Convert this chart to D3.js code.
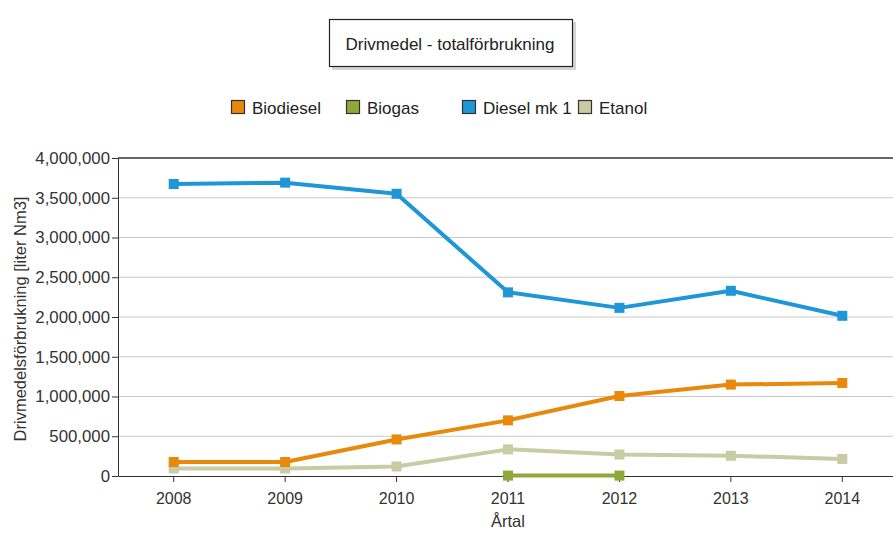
<!DOCTYPE html>
<html><head><meta charset="utf-8">
<script src="https://cdn.jsdelivr.net/npm/d3@7"></script>
<style>body{margin:0;background:#fff;} svg text{font-family:Arial,"Liberation Sans",sans-serif;}</style>
</head><body><svg id="c" width="893" height="536"></svg>
<script>
const years = ["2008","2009","2010","2011","2012","2013","2014"];
const seriesNames = ["Biodiesel","Biogas","Diesel mk 1","Etanol"];
const seriesColors = ["#e8890c","#8fa83a","#1e96d8","#c8cba3"];
const biodiesel = [176000,176000,460000,700000,1006000,1150000,1170000];
const biogas = [null,null,null,5000,5000,null,null];
const diesel = [3673000,3690000,3550000,2310000,2115000,2330000,2015000];
const etanol = [95000,95000,120000,335000,270000,255000,215000];
const yTicks = [0,500000,1000000,1500000,2000000,2500000,3000000,3500000,4000000];
const chartTitle = "Drivmedel - totalförbrukning";
const yTitle = "Drivmedelsförbrukning [liter Nm3]";
const xTitle = "Årtal";

const svg = d3.select("#c");
const L = 118, T = 158, B = 476, R = 898;
const x = d3.scaleBand().domain(years).range([L, R]);
const y = d3.scaleLinear().domain([0, 4000000]).range([B, T]);

// title box
svg.append("rect").attr("x",332).attr("y",22).attr("width",244).attr("height",48).attr("fill","#aaa").attr("opacity",0.5);
svg.append("rect").attr("x",329.5).attr("y",19.5).attr("width",243).attr("height",47).attr("fill","#fff").attr("stroke","#222").attr("stroke-width",1.2);
svg.append("text").attr("x",450).attr("y",50).attr("text-anchor","middle").attr("font-size",17).attr("fill","#222").text(chartTitle);

// legend
const legX = [231,346,462,578];
seriesNames.forEach((n,i)=>{
  svg.append("rect").attr("x",legX[i]+0.5).attr("y",100.5).attr("width",13).attr("height",13).attr("fill",seriesColors[i]).attr("stroke","#333").attr("stroke-width",1.2);
  svg.append("text").attr("x",legX[i]+21).attr("y",114).attr("font-size",17).attr("fill","#222").text(n);
});

// grid
svg.append("g").selectAll("line").data(yTicks.filter(d=>d>0 && d<4000000)).join("line")
  .attr("x1",L).attr("x2",893).attr("y1",d=>y(d)).attr("y2",d=>y(d)).attr("stroke","#c8c8c8").attr("stroke-width",1);
svg.append("line").attr("x1",L).attr("x2",893).attr("y1",T).attr("y2",T).attr("stroke","#333").attr("stroke-width",1.5);

// axes
const yAxis = d3.axisLeft(y).tickValues(yTicks).tickFormat(d3.format(",")).tickSize(6).tickSizeOuter(0);
const gy = svg.append("g").attr("transform",`translate(${L},0)`).call(yAxis);
gy.selectAll("text").attr("font-size",16.8).attr("fill","#333").attr("x",-8).attr("font-family","Arial,Liberation Sans,sans-serif");
gy.selectAll("line,path").attr("stroke","#333");
const xAxis = d3.axisBottom(x).tickSize(6).tickSizeOuter(0);
const gx = svg.append("g").attr("transform",`translate(0,${B})`).call(xAxis);
gx.selectAll("text").attr("font-size",16).attr("fill","#333").attr("y",17).attr("font-family","Arial,Liberation Sans,sans-serif");
gx.selectAll("line,path").attr("stroke","#333");

svg.append("text").attr("transform",`translate(26,${(T+B)/2+2}) rotate(-90)`).attr("text-anchor","middle").attr("font-size",16.5).attr("fill","#333").text(yTitle);
svg.append("text").attr("x",508).attr("y",527).attr("text-anchor","middle").attr("font-size",16.5).attr("fill","#333").text(xTitle);

// series
const data = [biodiesel,biogas,diesel,etanol];
const order = [3,1,0,2];
const line = d3.line().defined(d=>d[1]!=null).x(d=>x(d[0])+x.bandwidth()/2).y(d=>y(d[1]));
order.forEach(i=>{
  const pts = years.map((yr,j)=>[yr,data[i][j]]);
  svg.append("path").datum(pts).attr("d",line).attr("fill","none").attr("stroke",seriesColors[i]).attr("stroke-width",4).attr("stroke-linejoin","round");
  svg.append("g").selectAll("rect").data(pts.filter(d=>d[1]!=null)).join("rect")
    .attr("x",d=>x(d[0])+x.bandwidth()/2-5).attr("y",d=>y(d[1])-5).attr("width",10).attr("height",10).attr("fill",seriesColors[i]);
});
</script></body></html>
